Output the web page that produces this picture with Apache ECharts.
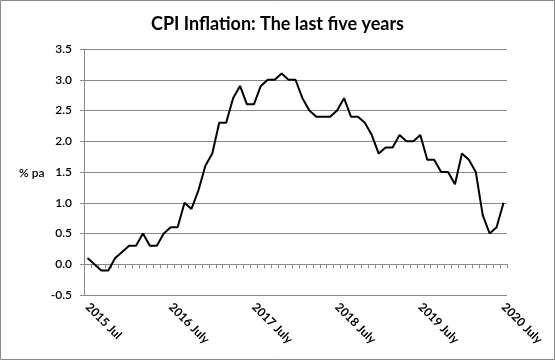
<!DOCTYPE html>
<html>
<head>
<meta charset="utf-8">
<script src="https://cdn.jsdelivr.net/npm/echarts@6/dist/echarts.min.js"></script>
<style>
html,body{margin:0;padding:0;background:#fff;}
#c{width:555px;height:360px;}
</style>
</head>
<body>
<div id="c"></div>
<script>
var months = [
 '2015 Jul','2015 Aug','2015 Sep','2015 Oct','2015 Nov','2015 Dec',
 '2016 Jan','2016 Feb','2016 Mar','2016 Apr','2016 May','2016 Jun','2016 July','2016 Aug','2016 Sep','2016 Oct','2016 Nov','2016 Dec',
 '2017 Jan','2017 Feb','2017 Mar','2017 Apr','2017 May','2017 Jun','2017 July','2017 Aug','2017 Sep','2017 Oct','2017 Nov','2017 Dec',
 '2018 Jan','2018 Feb','2018 Mar','2018 Apr','2018 May','2018 Jun','2018 July','2018 Aug','2018 Sep','2018 Oct','2018 Nov','2018 Dec',
 '2019 Jan','2019 Feb','2019 Mar','2019 Apr','2019 May','2019 Jun','2019 July','2019 Aug','2019 Sep','2019 Oct','2019 Nov','2019 Dec',
 '2020 Jan','2020 Feb','2020 Mar','2020 Apr','2020 May','2020 Jun','2020 July'
];
var cpi = [
 0.1,0.0,-0.1,-0.1,0.1,0.2,
 0.3,0.3,0.5,0.3,0.3,0.5,0.6,0.6,1.0,0.9,1.2,1.6,
 1.8,2.3,2.3,2.7,2.9,2.6,2.6,2.9,3.0,3.0,3.1,3.0,
 3.0,2.7,2.5,2.4,2.4,2.4,2.5,2.7,2.4,2.4,2.3,2.1,
 1.8,1.9,1.9,2.1,2.0,2.0,2.1,1.7,1.7,1.5,1.5,1.3,
 1.8,1.7,1.5,0.8,0.5,0.6,1.0
];
var shownLabels = ['2015 Jul','2016 July','2017 July','2018 July','2019 July','2020 July'];
var titleText = 'CPI Inflation: The last five years';
var yName = '% pa';

var chart = echarts.init(document.getElementById('c'));
chart.setOption({
  animation: false,
  backgroundColor: '#fff',
  title: {
    text: titleText, left: 'center', top: 10,
    textStyle: {fontFamily: 'Lato', fontSize: 18, fontWeight: 'bold', color: '#000'}
  },
  graphic: [
    {type: 'rect', shape: {x: 0.5, y: 0.5, width: 554, height: 359}, style: {fill: 'none', stroke: '#888', lineWidth: 1}, silent: true},
    {type: 'text', x: 19, y: 173, style: {text: yName, fontFamily: 'Lato', fontSize: 12, fontWeight: 600, fill: '#000', verticalAlign: 'middle'}}
  ],
  grid: {left: 84, right: 48, top: 49, bottom: 65},
  xAxis: {
    type: 'category', data: months, boundaryGap: true,
    axisLine: {lineStyle: {color: '#888'}},
    axisTick: {show: true, interval: 0, length: 4, lineStyle: {color: '#888'}},
    axisLabel: {
      interval: 0, rotate: -45, margin: 10,
      fontFamily: 'Lato', fontSize: 12, fontWeight: 'bold', color: '#000',
      formatter: function (v) { return shownLabels.indexOf(v) >= 0 ? v : ''; }
    },
    splitLine: {show: false}
  },
  yAxis: {
    type: 'value', min: -0.5, max: 3.5, interval: 0.5,
    axisLine: {show: true, lineStyle: {color: '#888'}},
    axisTick: {show: true, length: 4, lineStyle: {color: '#888'}},
    axisLabel: {fontFamily: 'Lato', fontSize: 12, fontWeight: 600, color: '#000', margin: 12,
      formatter: function (v) { return v.toFixed(1); }},
    splitLine: {lineStyle: {color: '#888', width: 1}}
  },
  series: [{
    type: 'line', data: cpi, showSymbol: false, symbol: 'none',
    lineStyle: {color: '#000', width: 2}
  }]
});
</script>
</body>
</html>
